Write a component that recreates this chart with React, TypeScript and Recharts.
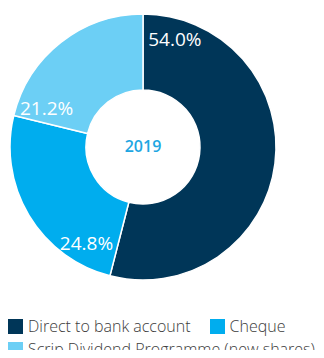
import { PieChart, Pie, Cell, Legend } from 'recharts';

const methods = ['Direct to bank account', 'Cheque', 'Scrip Dividend Programme (new shares)'];
const shares = [54.0, 24.8, 21.2];
const year = '2019';

const colors = ['#003658', '#00adee', '#6ccff5'];
// where each percentage sits: degrees past the slice's start edge, and distance from centre
const labelShift = [16.4, 16.2, 8.4];
const labelRadius = [113, 111, 104];

const data = methods.map((name, i) => ({ name, value: shares[i] }));

const RADIAN = Math.PI / 180;

function SliceLabel(props: any) {
  const { cx, cy, startAngle, index, value } = props;
  const angle = startAngle - labelShift[index];
  const r = labelRadius[index];
  const x = cx + r * Math.cos(angle * RADIAN);
  const y = cy - r * Math.sin(angle * RADIAN);
  return (
    <text
      x={x}
      y={y}
      fill="#fff"
      textAnchor="middle"
      dominantBaseline="central"
      fontSize={19}
      fontWeight={500}
      fontFamily="'Open Sans', sans-serif"
    >
      {value.toFixed(1)}%
    </text>
  );
}

function LegendBlock() {
  return (
    <div
      style={{
        display: 'flex',
        flexWrap: 'wrap',
        columnGap: 19,
        rowGap: 5,
        fontFamily: "'Open Sans', sans-serif",
        fontSize: 16,
        fontWeight: 300,
        color: '#3c3c3c',
        lineHeight: '18px',
      }}
    >
      {methods.map((m, i) => (
        <div key={m} style={{ display: 'flex', alignItems: 'center', whiteSpace: 'nowrap' }}>
          <span
            style={{
              display: 'inline-block',
              width: 15,
              height: 15,
              background: colors[i],
              marginRight: 5,
            }}
          />
          {m}
        </div>
      ))}
    </div>
  );
}

export default function App() {
  return (
    <div style={{ margin: -8, width: 324, height: 358, overflow: 'hidden', background: '#fff' }}>
      <PieChart width={324} height={358} margin={{ top: 0, right: 0, bottom: 0, left: 0 }}>
        <Pie
          data={data}
          dataKey="value"
          cx={143}
          cy={147}
          innerRadius={57}
          outerRadius={133}
          startAngle={90}
          endAngle={-270}
          stroke="#fff"
          strokeWidth={1.5}
          label={SliceLabel}
          labelLine={false}
          isAnimationActive={false}
        >
          {data.map((d, i) => (
            <Cell key={d.name} fill={colors[i]} />
          ))}
        </Pie>
        <text
          x={143}
          y={146}
          textAnchor="middle"
          dominantBaseline="central"
          fill="#1ea6e2"
          fontSize={16}
          fontWeight={600}
          fontFamily="'Open Sans', sans-serif"
        >
          {year}
        </text>
        <Legend
          content={LegendBlock}
          wrapperStyle={{ position: 'absolute', left: 8, top: 317, width: 316 }}
        />
      </PieChart>
    </div>
  );
}
